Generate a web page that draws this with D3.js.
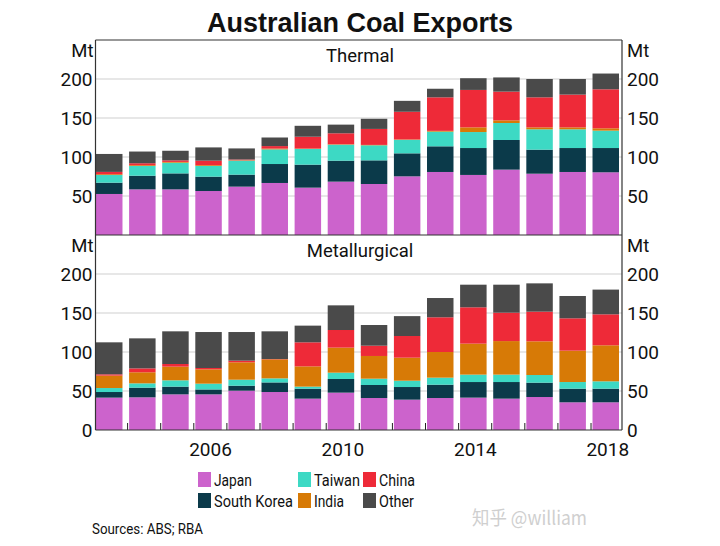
<!DOCTYPE html>
<html><head><meta charset="utf-8">
<script src="https://cdn.jsdelivr.net/npm/d3@7"></script>
<style>body{margin:0;background:#fff;} text{font-family:Roboto, "Liberation Sans", sans-serif;fill:#111;}</style>
</head><body><svg id="c" width="720" height="546"></svg>
<script>
const years = d3.range(2003, 2019);
const seriesNames = ["Japan","South Korea","Taiwan","India","China","Other"];
const colors = ["#cc63cc","#0b3a4a","#3dd9c4","#d77a06","#ee2a38","#4a4a4a"];
// Thermal (Mt)
const thJapan  = [52.6,58.5,58.5,56.4,62.0,66.7,60.7,68.4,65.4,75.2,80.8,77.0,83.8,78.6,80.8,80.4];
const thKorea  = [14.5,17.5,20.5,18.4,15.4,24.3,29.5,26.9,30.3,29.5,32.9,34.5,38.0,30.8,30.7,31.1];
const thTaiwan = [9.8,12.5,13.7,13.7,17.9,18.8,20.1,20.5,19.3,17.3,18.8,20.5,21.8,26.1,24.0,22.3];
const thIndia  = [1.0,1.0,1.0,1.0,0.5,1.0,0.5,0.5,0.5,0.5,1.0,6.0,3.4,2.5,2.5,3.0];
const thChina  = [3.0,2.5,2.0,5.8,1.0,3.2,15.2,14.1,20.5,35.5,43.0,48.0,36.8,38.5,42.0,50.0];
const thOther  = [23.0,15.0,12.3,17.0,14.2,11.0,14.0,11.1,13.0,14.0,11.0,15.0,18.2,23.5,20.0,20.2];
// Metallurgical (Mt)
const meJapan  = [41.5,41.9,45.7,45.7,50.4,48.7,40.2,47.9,41.0,38.9,41.0,41.5,40.2,42.3,35.5,35.5];
const meKorea  = [7.2,12.4,9.9,6.3,6.4,12.3,12.8,17.5,16.7,16.2,17.1,20.0,21.3,18.4,17.5,17.5];
const meTaiwan = [5.1,5.5,8.1,7.4,7.7,5.2,2.6,8.1,8.1,8.1,9.0,9.5,9.5,9.8,8.5,9.4];
const meIndia  = [15.9,14.2,17.5,18.4,22.3,24.4,26.0,32.1,29.1,29.5,32.9,39.7,43.0,43.2,40.2,46.2];
const meChina  = [1.7,5.0,3.4,1.7,2.1,0.4,30.8,22.6,13.2,27.8,44.5,46.6,36.4,38.0,41.5,39.7];
const meOther  = [41.0,38.5,41.9,46.1,36.7,35.5,21.4,31.6,26.5,25.5,24.7,29.0,35.9,36.3,28.6,31.7];
const yTicks = [50,100,150,200];
const xLabels = [2006,2010,2014,2018];

const svg = d3.select("#c");
const L = 95.5, R = 622;
const x = d3.scaleBand().domain(years).range([96, 619]).paddingInner(0.2).paddingOuter(0);

function table(arrs){ return years.map((y,i)=>{const o={year:y}; seriesNames.forEach((s,k)=>o[s]=arrs[k][i]); return o;}); }

function panel(top, bottom, arrs, label, showZero){
  const y = d3.scaleLinear().domain([0,250]).range([bottom, top]);
  const g = svg.append("g");
  g.selectAll("line.grid").data(yTicks).join("line")
    .attr("x1", L).attr("x2", R).attr("y1", d=>y(d)).attr("y2", d=>y(d))
    .attr("stroke", "#cfcfcf").attr("stroke-width", 1);
  const stack = d3.stack().keys(seriesNames)(table(arrs));
  stack.forEach((layer,k)=>{
    g.append("g").attr("fill", colors[k]).selectAll("rect").data(layer).join("rect")
      .attr("x", d=>x(d.data.year)).attr("width", x.bandwidth())
      .attr("y", d=>y(d[1])).attr("height", d=>y(d[0]) - y(d[1]));
  });
  const labs = showZero ? [0].concat(yTicks) : yTicks;
  const la = d3.axisLeft(y).tickValues(labs).tickSize(0).tickPadding(3);
  const ra = d3.axisRight(y).tickValues(labs).tickSize(0).tickPadding(5);
  const gl = g.append("g").attr("transform", `translate(${L},0)`).call(la);
  const gr = g.append("g").attr("transform", `translate(${R},0)`).call(ra);
  [gl, gr].forEach(a=>{ a.select(".domain").remove(); a.selectAll("text").style("font-size","19px").attr("fill","#111").attr("dy","0.35em"); });
  g.append("text").attr("x", L-2).attr("y", top+17).attr("text-anchor","end").style("font-size","18.5px").text("Mt");
  g.append("text").attr("x", R+5).attr("y", top+17).attr("text-anchor","start").style("font-size","18.5px").text("Mt");
  g.append("text").attr("x", 360).attr("y", top+22).attr("text-anchor","middle").style("font-size","18.5px").text(label);
  return y;
}

svg.append("text").attr("x", 360).attr("y", 32).attr("text-anchor","middle")
  .style("font-family","'Liberation Sans', Arial, sans-serif").style("font-weight","bold").style("font-size","27px").text("Australian Coal Exports");

panel(40, 235, [thJapan,thKorea,thTaiwan,thIndia,thChina,thOther], "Thermal", false);
panel(235, 430, [meJapan,meKorea,meTaiwan,meIndia,meChina,meOther], "Metallurgical", true);

svg.append("g").selectAll("line").data(years.slice(1)).join("line")
  .attr("x1", d=>x(d)-1.5).attr("x2", d=>x(d)-1.5).attr("y1", 430).attr("y2", 423)
  .attr("stroke","#222").attr("stroke-width",1);
svg.append("g").selectAll("text").data(xLabels).join("text")
  .attr("x", d=>x(d)+x.bandwidth()/2+2).attr("y", 456).attr("text-anchor","middle")
  .style("font-size","19px").text(d=>d);

const fr = svg.append("g").attr("stroke","#333").attr("stroke-width",1.2).attr("fill","none");
fr.append("line").attr("x1",L).attr("x2",R).attr("y1",40).attr("y2",40);
fr.append("line").attr("x1",L).attr("x2",R).attr("y1",235).attr("y2",235);
fr.append("line").attr("x1",L).attr("x2",R).attr("y1",430).attr("y2",430);
fr.append("line").attr("x1",L).attr("x2",L).attr("y1",40).attr("y2",430);
fr.append("line").attr("x1",R).attr("x2",R).attr("y1",40).attr("y2",430);

const legendItems = [
  {name:"Japan", c:0, col:0, row:0, w:38},{name:"Taiwan", c:2, col:1, row:0, w:46},{name:"China", c:4, col:2, row:0, w:36},
  {name:"South Korea", c:1, col:0, row:1, w:79},{name:"India", c:3, col:1, row:1, w:30},{name:"Other", c:5, col:2, row:1, w:35}];
const colX = [198, 298, 363];
const lg = svg.append("g");
legendItems.forEach(it=>{
  const yy = 472 + it.row*21;
  lg.append("rect").attr("x", colX[it.col]).attr("y", yy).attr("width", 13).attr("height", 15).attr("fill", colors[it.c]);
  lg.append("text").attr("x", colX[it.col]+16).attr("y", yy+14).style("font-size","16.5px")
    .attr("textLength", it.w).attr("lengthAdjust","spacingAndGlyphs").text(it.name);
});

svg.append("text").attr("x", 92).attr("y", 534).style("font-size","14.5px")
  .attr("textLength", 111).attr("lengthAdjust","spacingAndGlyphs").text("Sources: ABS; RBA");
svg.append("text").attr("x", 472).attr("y", 525).style("font-size","19px").style("font-family","'Noto Sans CJK SC', 'Noto Sans', sans-serif").style("fill","#cfcfcf")
  .attr("textLength", 115).attr("lengthAdjust","spacingAndGlyphs").text("知乎 @william");
</script></body></html>
